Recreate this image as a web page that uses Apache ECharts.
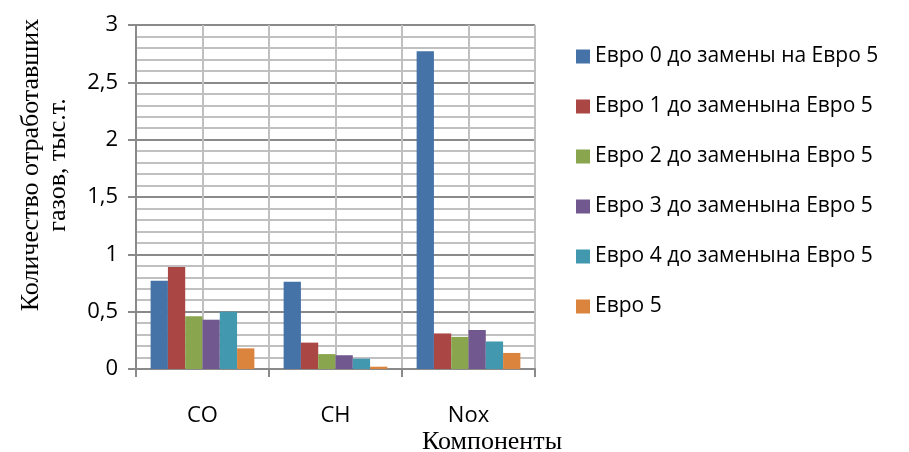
<!DOCTYPE html>
<html>
<head>
<meta charset="utf-8">
<script src="https://cdn.jsdelivr.net/npm/echarts@6/dist/echarts.min.js"></script>
<style>html,body{margin:0;padding:0;background:#fff}#c{width:909px;height:452px}</style>
</head>
<body>
<div id="c"></div>
<script>
const categories = ['CO', 'CH', 'Nox'];
const seriesNames = [
  'Евро 0 до замены на Евро 5',
  'Евро 1 до заменына Евро 5',
  'Евро 2 до заменына Евро 5',
  'Евро 3 до заменына Евро 5',
  'Евро 4 до заменына Евро 5',
  'Евро 5'
];
const euro0 = [0.77, 0.76, 2.77];
const euro1 = [0.89, 0.23, 0.31];
const euro2 = [0.46, 0.13, 0.28];
const euro3 = [0.43, 0.12, 0.34];
const euro4 = [0.50, 0.09, 0.24];
const euro5 = [0.18, 0.02, 0.14];
const yTicks = [0, 0.5, 1, 1.5, 2, 2.5, 3];
const colors = ['#4572A7', '#AA4643', '#89A54E', '#71588F', '#4198AF', '#DB843D'];
const values = [euro0, euro1, euro2, euro3, euro4, euro5];

const sans = '"Open Sans", "Noto Sans", sans-serif';
const serif = '"Liberation Serif", "DejaVu Serif", serif';

const chart = echarts.init(document.getElementById('c'));
chart.setOption({
  animation: false,
  color: colors,
  grid: { left: 136, right: 374, top: 25, bottom: 83, containLabel: false, outerBoundsMode: 'none' },
  legend: {
    orient: 'vertical', left: 571, top: 41,
    itemWidth: 14, itemHeight: 14, itemGap: 29,
    icon: 'rect',
    textStyle: { fontFamily: sans, fontSize: 21, color: '#000' },
    data: seriesNames
  },
  title: [{
    text: 'Компоненты', left: 417, top: 424,
    textStyle: { fontFamily: serif, fontSize: 26, fontWeight: 'normal', color: '#000' }
  }],
  xAxis: [{
    type: 'category', data: categories,
    axisLine: { lineStyle: { color: '#8a8a8a', width: 2 } },
    axisTick: { show: true, length: 8, lineStyle: { color: '#8a8a8a', width: 2 } },
    axisLabel: { margin: 36, fontFamily: sans, fontSize: 22, color: '#000' },
    splitLine: { show: true, lineStyle: { color: '#8a8a8a', width: 2 } }
  }, {
    type: 'value', min: 0, max: 6, interval: 1, show: true,
    axisLine: { show: false }, axisTick: { show: false }, axisLabel: { show: false },
    splitLine: { show: true, lineStyle: { color: '#c0c0c0', width: 2 } }
  }],
  yAxis: {
    type: 'value', min: 0, max: 3, interval: 0.5,
    name: 'Количество отработавших\nгазов, тыс.т.',
    nameLocation: 'middle', nameGap: 64, nameRotate: 90,
    nameTextStyle: { fontFamily: serif, fontSize: 26, color: '#000', lineHeight: 27, padding: [0, 0, 0, 64] },
    axisLine: { show: true, lineStyle: { color: '#8a8a8a', width: 2 } },
    axisTick: { show: true, length: 8, lineStyle: { color: '#8a8a8a', width: 2 } },
    axisLabel: {
      margin: 18, fontFamily: sans, fontSize: 22, color: '#000',
      formatter: v => String(v).replace('.', ',')
    },
    splitLine: { show: true, lineStyle: { color: '#8a8a8a', width: 2 } },
    minorTick: { show: false, splitNumber: 5 },
    minorSplitLine: { show: true, lineStyle: { color: '#c0c0c0', width: 2 } }
  },
  series: seriesNames.map((n, i) => ({
    name: n, type: 'bar', xAxisIndex: 0, data: values[i],
    barGap: '0%', barCategoryGap: '22%',
    itemStyle: { color: colors[i] }
  }))
});
</script>
</body>
</html>
